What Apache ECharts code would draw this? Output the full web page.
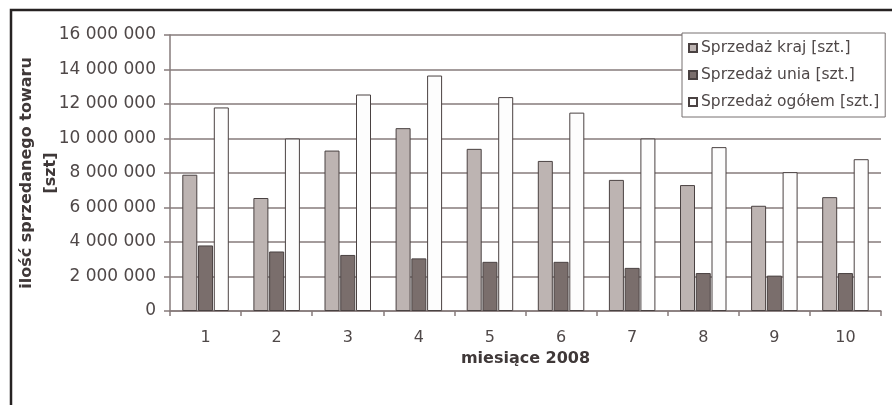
<!DOCTYPE html>
<html>
<head>
<meta charset="utf-8">
<script src="https://cdn.jsdelivr.net/npm/echarts@6/dist/echarts.min.js"></script>
<style>
html,body{margin:0;padding:0;background:#fff;}
#chart{width:892px;height:405px;}
</style>
</head>
<body>
<div id="chart"></div>
<script>
var months = ['1','2','3','4','5','6','7','8','9','10'];
var sprzedazKraj = [7900000, 6550000, 9300000, 10600000, 9400000, 8700000, 7600000, 7300000, 6100000, 6600000];
var sprzedazUnia = [3800000, 3450000, 3250000, 3050000, 2850000, 2850000, 2500000, 2200000, 2050000, 2200000];
var sprzedazOgolem = [11800000, 10000000, 12550000, 13650000, 12400000, 11500000, 10000000, 9500000, 8050000, 8800000];
var seriesNames = ['Sprzedaż kraj [szt.]', 'Sprzedaż unia [szt.]', 'Sprzedaż ogółem [szt.]'];
var yAxisTitle = ['ilość sprzedanego towaru', '[szt]'];
var xAxisTitle = 'miesiące 2008';

function fmt(v){
  return String(v).replace(/\B(?=(\d{3})+(?!\d))/g, ' ');
}

var chart = echarts.init(document.getElementById('chart'), null, {renderer:'canvas'});
var font = 'DejaVu Sans';
var txt = '#4f4848';
var gridCol = '#867b7b';
var border = '#4a4242';

chart.setOption({
  backgroundColor:'#ffffff',
  animation:false,
  grid:{left:170, right:11, top:35, bottom:94},
  legend:{
    orient:'vertical', left:682, top:33,
    backgroundColor:'#ffffff', borderColor:'#777070', borderWidth:1,
    padding:[7,6,7,6], itemWidth:8, itemHeight:8, itemGap:11,
    icon:'rect',
    textStyle:{fontFamily:font, fontSize:15.5, color:txt, lineHeight:16, padding:[0,0,0,-1]},
    data:seriesNames
  },
  xAxis:{
    type:'category', data:months,
    axisLine:{lineStyle:{color:gridCol, width:1.5}},
    axisTick:{show:true, length:5, lineStyle:{color:gridCol, width:1.5}},
    axisLabel:{fontFamily:font, fontSize:16, color:txt, margin:19},
    name:xAxisTitle, nameLocation:'middle', nameGap:38,
    nameTextStyle:{fontFamily:font, fontSize:16, fontWeight:'bold', color:'#3f3838'}
  },
  yAxis:{
    type:'value', min:0, max:16000000, interval:2000000,
    axisLine:{show:true, lineStyle:{color:gridCol, width:1.5}},
    axisTick:{show:true, length:6, lineStyle:{color:gridCol, width:1.5}},
    splitLine:{lineStyle:{color:gridCol, width:1.5}},
    axisLabel:{fontFamily:font, fontSize:17, color:txt, margin:14, formatter:fmt}
  },
  graphic:[
    {type:'polyline', shape:{points:[[11,405],[11,10],[892,10]]}, style:{stroke:'#262222', lineWidth:2.5, fill:null}, silent:true},
    {type:'text', x:39, y:173, rotation:Math.PI/2,
     style:{text:yAxisTitle.join('\n'), fontFamily:font, fontSize:16, fontWeight:'bold', fill:'#3f3838',
            align:'center', verticalAlign:'middle', lineHeight:24}}
  ],
  series:[
    {name:seriesNames[0], type:'bar', data:sprzedazKraj, barWidth:15, barGap:'5%',
     itemStyle:{color:'#bdb4b2', borderColor:border, borderWidth:1}},
    {name:seriesNames[1], type:'bar', data:sprzedazUnia, barWidth:15, barGap:'5%',
     itemStyle:{color:'#7a6e6c', borderColor:border, borderWidth:1}},
    {name:seriesNames[2], type:'bar', data:sprzedazOgolem, barWidth:15, barGap:'5%',
     itemStyle:{color:'#fdfdfd', borderColor:border, borderWidth:1}}
  ]
});
</script>
</body>
</html>
